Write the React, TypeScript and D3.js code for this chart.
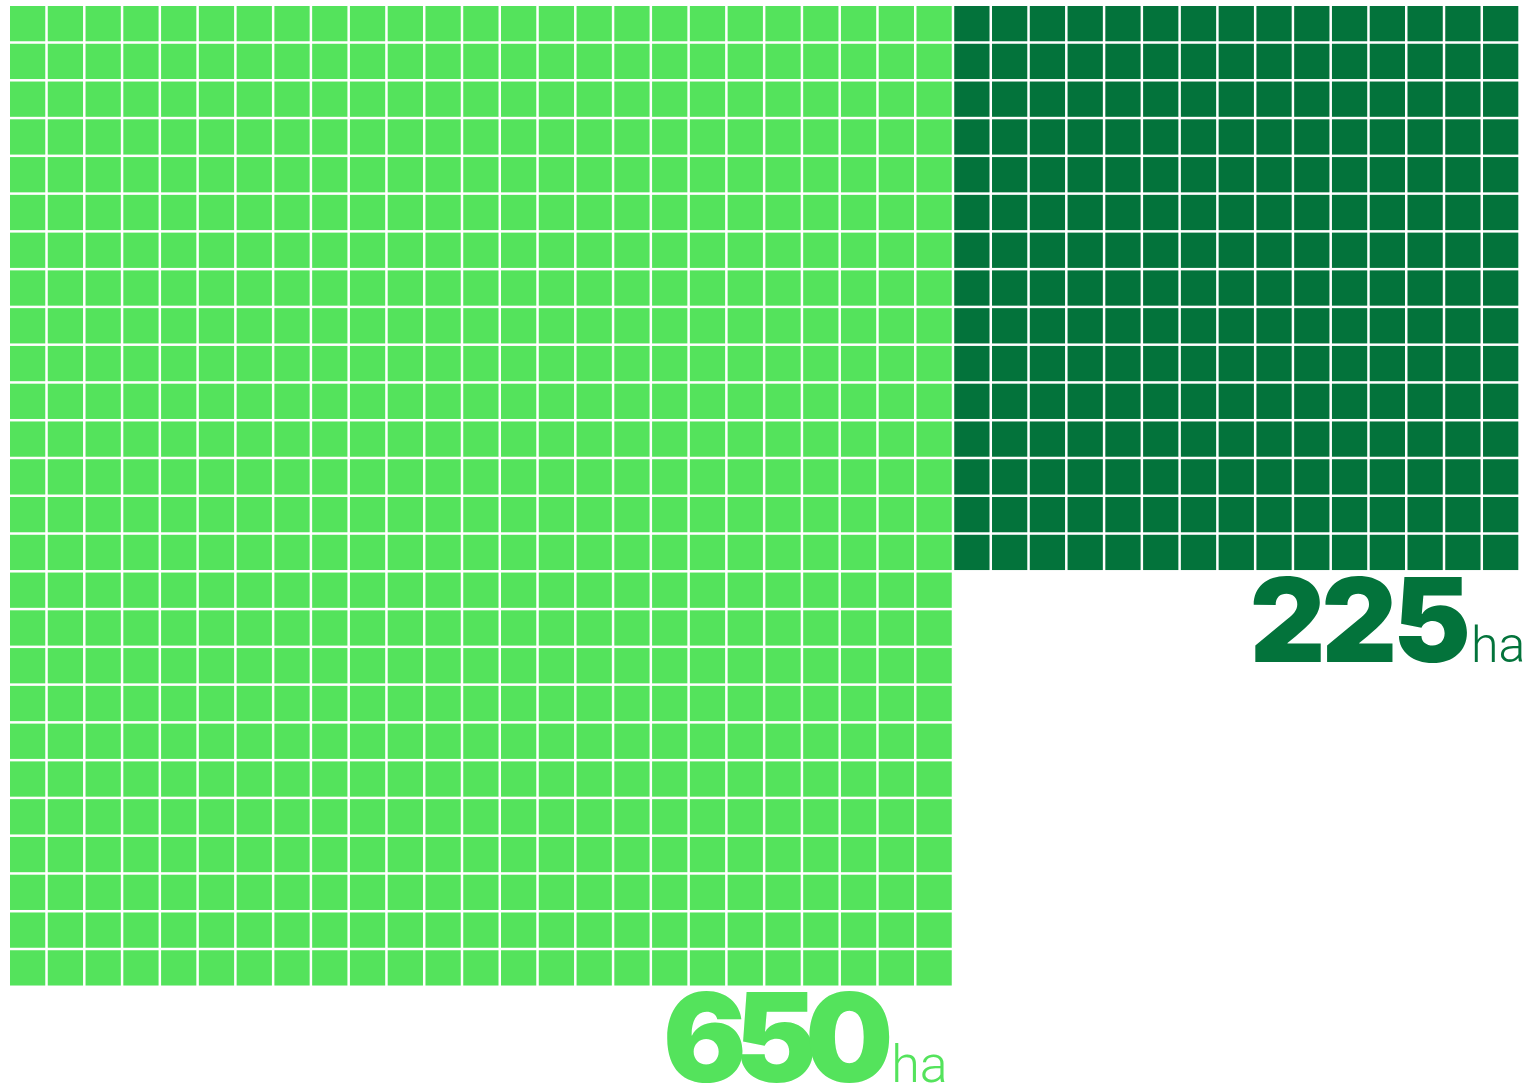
import React from "react";
import * as d3 from "d3";

const categories = ["Área 1", "Área 2"];
const values = [650, 225];
const columnsPerBlock = [25, 15];
const colors = ["#54e35c", "#03733b"];
const units = ["ha", "ha"];

const W = 1529;
const H = 1085;
const totalCols = 40;
const pitch = 37.77;
const gap = 2.5;
const left = 10;
const top = 6;

export default function App() {
  const x = d3.scaleLinear().domain([0, totalCols]).range([left, left + totalCols * pitch]);
  const maxRows = d3.max(values.map((v, i) => Math.ceil(v / columnsPerBlock[i]))) as number;
  const y = d3.scaleLinear().domain([0, maxRows]).range([top, top + maxRows * pitch]);

  let colOffset = 0;
  const blocks = values.map((v, i) => {
    const nc = columnsPerBlock[i];
    const cells = d3.range(v).map((k) => ({ col: colOffset + (k % nc), row: Math.floor(k / nc) }));
    const rows = Math.ceil(v / nc);
    const block = { cells, startCol: colOffset, nc, rows, color: colors[i], value: v, unit: units[i], name: categories[i] };
    colOffset += nc;
    return block;
  });

  const labelCfg = [
    { dx: -4, dy: 94, size: 124, unitSize: 52, ls: -12, udx: 10 },
    { dx: 7, dy: 89.5, size: 117, unitSize: 50, ls: -4, udx: 4 },
  ];

  return (
    <svg width={W} height={H} style={{ position: "absolute", left: 0, top: 0, background: "#fff" }}>
      {blocks.map((b, i) => (
        <g key={b.name}>
          {b.cells.map((c, k) => (
            <rect
              key={k}
              x={x(c.col)}
              y={y(c.row)}
              width={pitch - gap}
              height={pitch - gap}
              fill={b.color}
            />
          ))}
          <text
            x={x(b.startCol + b.nc) - gap + labelCfg[i].dx}
            y={y(b.rows) + labelCfg[i].dy}
            textAnchor="end"
            fill={b.color}
          >
            <tspan
              fontFamily="Inter, Roboto, sans-serif"
              fontWeight={900}
              fontSize={labelCfg[i].size}
              letterSpacing={labelCfg[i].ls}
            >
              {b.value}
            </tspan>
            <tspan
              fontFamily="Roboto, Inter, sans-serif"
              fontWeight={300}
              fontSize={labelCfg[i].unitSize}
              dx={labelCfg[i].udx}
            >
              {b.unit}
            </tspan>
          </text>
        </g>
      ))}
    </svg>
  );
}
